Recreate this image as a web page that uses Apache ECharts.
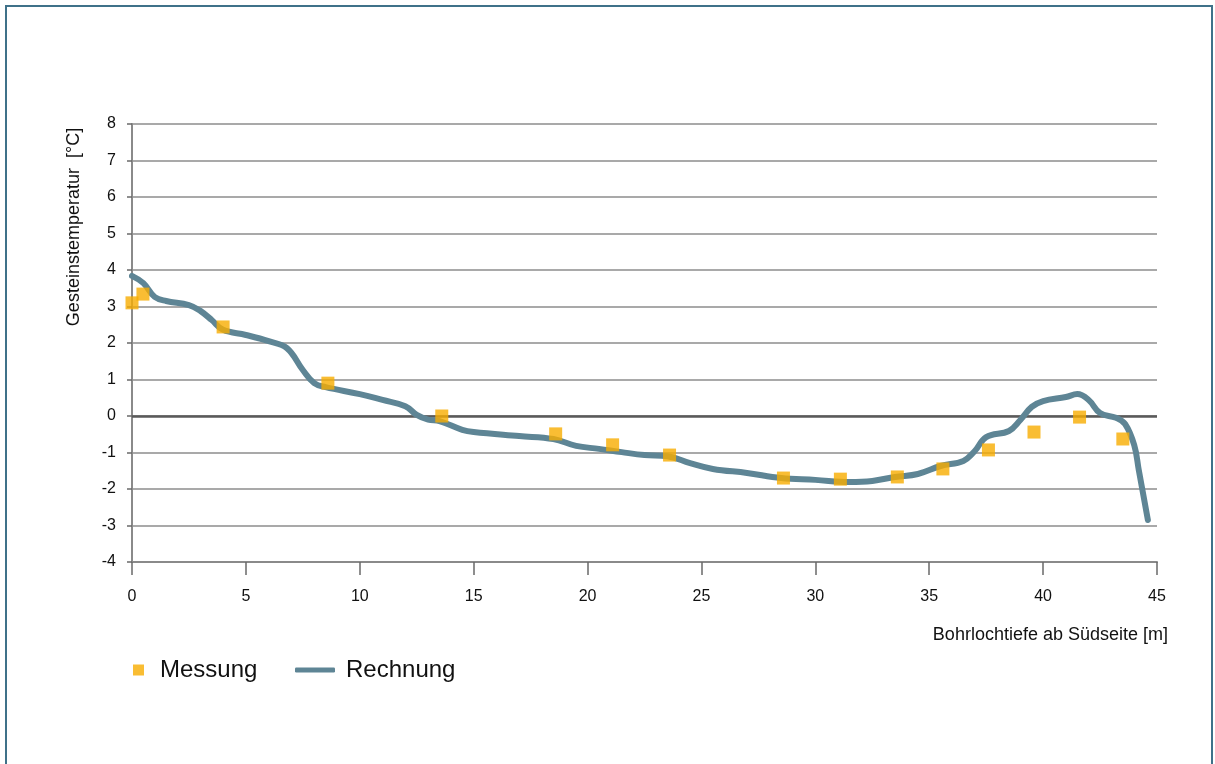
<!DOCTYPE html>
<html><head><meta charset="utf-8">
<script src="https://cdn.jsdelivr.net/npm/echarts@6/dist/echarts.min.js"></script>
<style>html,body{margin:0;padding:0;background:#fff}#c{width:1215px;height:764px}</style>
</head><body><div id="c"></div>
<script>
var messDepth = [0, 0.48, 4.0, 8.6, 13.6, 18.6, 21.1, 23.6, 28.6, 31.1, 33.6, 35.6, 37.6, 39.6, 41.6, 43.5];
var messTemp  = [3.10, 3.34, 2.44, 0.90, 0.0, -0.49, -0.79, -1.07, -1.70, -1.73, -1.67, -1.45, -0.93, -0.44, -0.03, -0.63];
var calcDepth = [0, 0.5, 1, 1.5, 2.5, 3, 3.5, 4, 5, 6, 6.8, 7.5, 8, 8.5, 10, 11, 12, 12.5, 13, 13.5, 14.5, 15, 17, 18.5, 19.5, 20.5, 21.5, 22.5, 23.5, 24.5, 25.5, 27, 28.5, 30, 31.5, 32.5, 33.5, 34.5, 35.5, 36.5, 37, 37.5, 38.5, 39, 39.5, 40, 41, 41.5, 42, 42.5, 43.2, 43.6, 44.0, 44.2, 44.6];
var calcTemp  = [3.84, 3.64, 3.26, 3.15, 3.04, 2.88, 2.63, 2.36, 2.22, 2.05, 1.86, 1.26, 0.90, 0.79, 0.60, 0.44, 0.27, 0.03, -0.10, -0.14, -0.38, -0.44, -0.55, -0.63, -0.82, -0.90, -0.99, -1.07, -1.10, -1.29, -1.45, -1.56, -1.70, -1.75, -1.81, -1.78, -1.67, -1.59, -1.37, -1.23, -0.96, -0.58, -0.41, -0.11, 0.25, 0.41, 0.52, 0.60, 0.44, 0.08, -0.05, -0.22, -0.80, -1.48, -2.85];
var seriesNames = ['Messung', 'Rechnung'];
var yTitle = 'Gesteinstemperatur  [°C]';
var xTitle = 'Bohrlochtiefe ab Südseite [m]';

var chart = echarts.init(document.getElementById('c'));
var font = 'Liberation Sans, Arial, sans-serif';
chart.setOption({
  backgroundColor: '#fff',
  animation: false,
  grid: {left: 132, right: 58, top: 124, bottom: 202},
  xAxis: {
    type: 'value', min: 0, max: 45, interval: 5,
    axisLine: {show: true, onZero: false, lineStyle: {color: '#8a8a8a', width: 2}},
    axisTick: {show: true, length: 13, lineStyle: {color: '#6a6a6a', width: 1.5}},
    axisLabel: {color: '#111', fontSize: 16, fontFamily: font, margin: 27},
    splitLine: {show: false}
  },
  yAxis: {
    type: 'value', min: -4, max: 8, interval: 1,
    axisLine: {show: true, onZero: false, lineStyle: {color: '#8a8a8a', width: 2}},
    axisTick: {show: true, length: 5, lineStyle: {color: '#6a6a6a', width: 1.5}},
    axisLabel: {color: '#111', fontSize: 16, fontFamily: font, margin: 16},
    splitLine: {show: true, lineStyle: {color: '#8c8c8c', width: 1.5}}
  },
  legend: [
    {data: [seriesNames[0]], left: 133, top: 658, padding: 0, icon: 'rect', itemWidth: 11, itemHeight: 11,
     textStyle: {fontSize: 24, color: '#111', fontFamily: font, padding: [0, 0, 0, 11]}},
    {data: [seriesNames[1]], left: 295, top: 658, padding: 0, icon: 'roundRect', itemWidth: 40, itemHeight: 5,
     textStyle: {fontSize: 24, color: '#111', fontFamily: font, padding: [0, 0, 0, 6]}}
  ],
  graphic: [
    {type: 'rect', shape: {x: 6, y: 6, width: 1206, height: 820}, style: {fill: 'none', stroke: '#3f7189', lineWidth: 2}, silent: true},
    {type: 'text', x: 74, y: 227, rotation: Math.PI / 2,
     style: {text: yTitle, fontSize: 18, fontFamily: font, fill: '#111', textAlign: 'center', textVerticalAlign: 'middle'}},
    {type: 'text', x: 1168, y: 635,
     style: {text: xTitle, fontSize: 18, fontFamily: font, fill: '#111', textAlign: 'right', textVerticalAlign: 'middle'}}
  ],
  series: [
    {
      name: seriesNames[1], type: 'line', z: 3,
      data: calcDepth.map(function (d, i) { return [d, calcTemp[i]]; }),
      showSymbol: false, symbol: 'none', smooth: 0.4,
      lineStyle: {color: '#5e8595', width: 6, cap: 'round', join: 'round'},
      itemStyle: {color: '#5e8595'},
      markLine: {silent: true, symbol: 'none', label: {show: false}, z: 1,
        lineStyle: {color: '#5a5a5a', width: 2.5, type: 'solid'}, data: [{yAxis: 0}]}
    },
    {
      name: seriesNames[0], type: 'scatter', z: 4,
      data: messDepth.map(function (d, i) { return [d, messTemp[i]]; }),
      symbol: 'rect', symbolSize: 13,
      itemStyle: {color: '#f8ac00'}
    }
  ]
});
</script></body></html>
